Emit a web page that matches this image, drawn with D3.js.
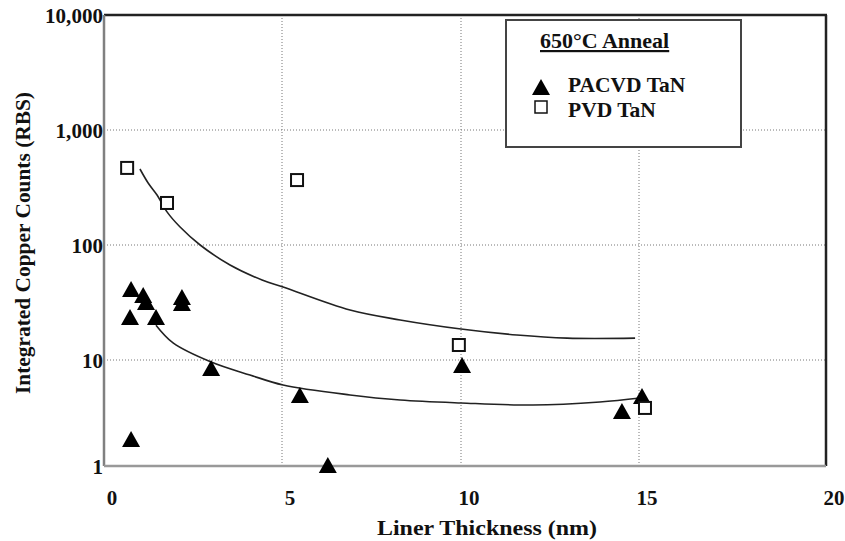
<!DOCTYPE html>
<html>
<head>
<meta charset="utf-8">
<script src="https://cdn.jsdelivr.net/npm/d3@7"></script>
<style>
body { margin: 0; background: #fff; }
text { font-family: "Liberation Serif", "Times New Roman", serif; font-weight: bold; fill: #111; }
</style>
</head>
<body>
<svg></svg>
<script>
// axis ticks
var xTicks = [0, 5, 10, 15, 20]
var yTicks = [1, 10, 100, 1000, 10000]
var yTickLabels = ["1", "10", "100", "1,000", "10,000"]

// PACVD TaN (triangles)
var pacvdX = [0.76, 1.10, 1.18, 0.73, 1.46, 2.19, 2.19, 3.01, 5.50, 0.76, 6.28, 10.03, 14.52, 15.08]
var pacvdY = [41.4, 36.7, 31.9, 23.7, 23.7, 35.3, 31.3, 8.4, 4.68, 1.8, 1.02, 8.97, 3.30, 4.57]

// PVD TaN (squares)
var pvdX = [0.65, 1.77, 5.42, 9.94, 15.16]
var pvdY = [468, 232, 367, 13.5, 3.53]

// trend curves
var pvdFitX = [1.01, 1.24, 1.49, 1.77, 2.13, 2.70, 3.54, 4.44, 5.03, 6.90, 8.30, 10.0, 11.57, 12.98, 14.89]
var pvdFitY = [458, 346, 272, 194, 144, 100, 67, 49.6, 43.1, 27.2, 22.3, 18.6, 16.5, 15.5, 15.5]
var pacvdFitX = [1.46, 1.94, 3.01, 4.10, 5.03, 6.90, 8.30, 10.0, 12.02, 13.90, 15.03]
var pacvdFitY = [20.1, 14.1, 9.58, 7.22, 5.81, 4.68, 4.19, 3.93, 3.76, 4.02, 4.38]

var screen = {width: 845, height: 541}
var plot = {left: 104, right: 826, top: 15, bottom: 466}

var svg = d3.select("svg")
    .attr("width", screen.width)
    .attr("height", screen.height)

var xScale = d3.scaleLinear()
    .domain([0, 5, 10, 15, 20])
    .range([plot.left, 282, 461, 639, plot.right])

var yScale = d3.scaleLog()
    .domain([1, 10, 10000])
    .range([plot.bottom, 360, plot.top])

// grid
svg.selectAll(".vgrid")
    .data(xTicks.slice(1, 4))
    .enter()
    .append("line")
    .attr("x1", function(d){ return xScale(d) })
    .attr("x2", function(d){ return xScale(d) })
    .attr("y1", plot.top)
    .attr("y2", plot.bottom)
    .attr("stroke", "#777")
    .attr("stroke-width", 1)
    .attr("stroke-dasharray", "1,2")

svg.selectAll(".hgrid")
    .data(yTicks.slice(1, 4))
    .enter()
    .append("line")
    .attr("x1", plot.left)
    .attr("x2", plot.right)
    .attr("y1", function(d){ return yScale(d) })
    .attr("y2", function(d){ return yScale(d) })
    .attr("stroke", "#777")
    .attr("stroke-width", 1)
    .attr("stroke-dasharray", "1,2")

// frame
svg.append("line")
    .attr("x1", plot.left).attr("x2", plot.right + 1)
    .attr("y1", plot.top).attr("y2", plot.top)
    .attr("stroke", "#222").attr("stroke-width", 2.5)
svg.append("line")
    .attr("x1", plot.right).attr("x2", plot.right)
    .attr("y1", plot.top).attr("y2", plot.bottom)
    .attr("stroke", "#222").attr("stroke-width", 2.5)
svg.append("line")
    .attr("x1", plot.left).attr("x2", plot.left)
    .attr("y1", plot.top).attr("y2", plot.bottom)
    .attr("stroke", "#808080").attr("stroke-width", 2.5)
svg.append("line")
    .attr("x1", plot.left).attr("x2", plot.right)
    .attr("y1", plot.bottom).attr("y2", plot.bottom)
    .attr("stroke", "#999").attr("stroke-width", 2.5)

// tick labels
svg.selectAll(".xlab")
    .data(xTicks)
    .enter()
    .append("text")
    .attr("x", function(d){ return xScale(d) + 8 })
    .attr("y", 505)
    .attr("text-anchor", "middle")
    .attr("font-size", "21px")
    .text(function(d){ return d })

svg.selectAll(".ylab")
    .data(yTicks)
    .enter()
    .append("text")
    .attr("x", 103)
    .attr("y", function(d){ return yScale(d) + 8 })
    .attr("text-anchor", "end")
    .attr("font-size", "21px")
    .attr("textLength", function(d, i){ return yTickLabels[i].length * 10.5 - (yTickLabels[i].length > 3 ? 5 : 0) })
    .text(function(d, i){ return yTickLabels[i] })

// axis titles
svg.append("text")
    .attr("x", 487)
    .attr("y", 535)
    .attr("text-anchor", "middle")
    .attr("font-size", "21px")
    .attr("textLength", 220)
    .attr("lengthAdjust", "spacingAndGlyphs")
    .text("Liner Thickness (nm)")

svg.append("text")
    .attr("transform", "translate(30,243) rotate(-90)")
    .attr("text-anchor", "middle")
    .attr("font-size", "21px")
    .attr("textLength", 302)
    .attr("lengthAdjust", "spacingAndGlyphs")
    .text("Integrated Copper Counts (RBS)")

// trend curves
var line = d3.line()
    .x(function(p){ return xScale(p.x) })
    .y(function(p){ return yScale(p.y) })
    .curve(d3.curveCatmullRom.alpha(0.5))

var pvdFit = pvdFitX.map(function(x, i){ return {x: x, y: pvdFitY[i]} })
var pacvdFit = pacvdFitX.map(function(x, i){ return {x: x, y: pacvdFitY[i]} })

svg.append("path")
    .attr("d", line(pvdFit))
    .attr("fill", "none")
    .attr("stroke", "#222")
    .attr("stroke-width", 1.6)
svg.append("path")
    .attr("d", line(pacvdFit))
    .attr("fill", "none")
    .attr("stroke", "#222")
    .attr("stroke-width", 1.6)

var triangle = function(cx, cy)
{
    return "M" + cx + "," + (cy - 8) + "L" + (cx + 9) + "," + (cy + 8) + "L" + (cx - 9) + "," + (cy + 8) + "Z"
}

// points
var pacvd = pacvdX.map(function(x, i){ return {x: x, y: pacvdY[i]} })
var pvd = pvdX.map(function(x, i){ return {x: x, y: pvdY[i]} })

svg.selectAll(".tri")
    .data(pacvd)
    .enter()
    .append("path")
    .attr("d", function(p){ return triangle(xScale(p.x), yScale(p.y)) })
    .attr("fill", "#000")

svg.selectAll(".sq")
    .data(pvd)
    .enter()
    .append("rect")
    .attr("x", function(p){ return xScale(p.x) - 6 })
    .attr("y", function(p){ return yScale(p.y) - 6 })
    .attr("width", 12)
    .attr("height", 12)
    .attr("fill", "#fff")
    .attr("stroke", "#111")
    .attr("stroke-width", 2)

// legend
var legend = svg.append("g")
legend.append("rect")
    .attr("x", 506).attr("y", 20)
    .attr("width", 235).attr("height", 127)
    .attr("fill", "#fff")
    .attr("stroke", "#444")
    .attr("stroke-width", 2)
legend.append("text")
    .attr("x", 540).attr("y", 48)
    .attr("font-size", "22px")
    .attr("text-decoration", "underline")
    .text("650°C Anneal")
legend.append("path")
    .attr("d", triangle(541, 87))
    .attr("fill", "#000")
legend.append("text")
    .attr("x", 568).attr("y", 92)
    .attr("font-size", "21.5px")
    .text("PACVD TaN")
legend.append("rect")
    .attr("x", 535).attr("y", 101)
    .attr("width", 12).attr("height", 12)
    .attr("fill", "#fff")
    .attr("stroke", "#111")
    .attr("stroke-width", 1.5)
legend.append("text")
    .attr("x", 568).attr("y", 117)
    .attr("font-size", "21.5px")
    .text("PVD TaN")
</script>
</body>
</html>
